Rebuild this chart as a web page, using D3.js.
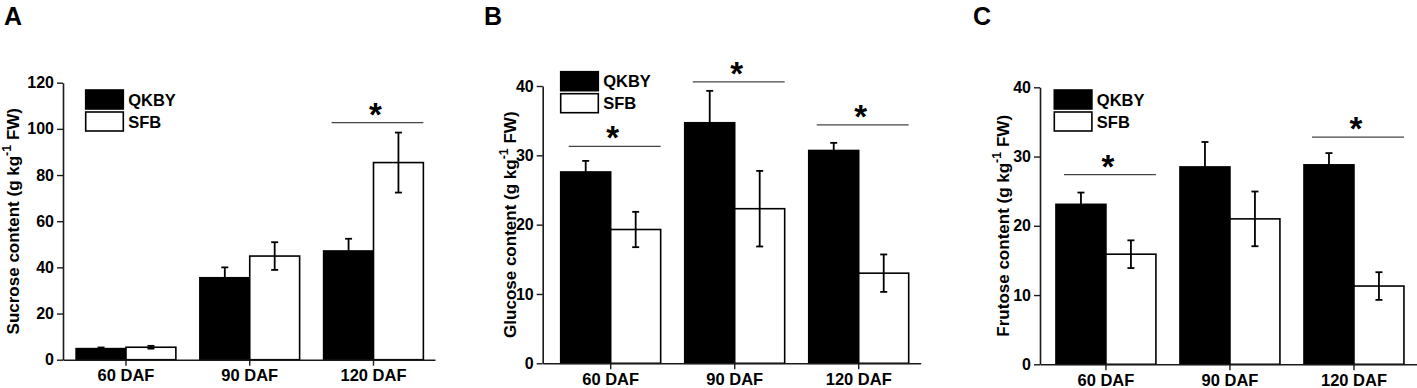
<!DOCTYPE html>
<html>
<head>
<meta charset="utf-8">
<script src="https://cdn.jsdelivr.net/npm/d3@7"></script>
<style>
  html, body { margin: 0; padding: 0; background: #fff; }
  svg { display: block; font-family: "Liberation Sans", Arial, sans-serif; }
</style>
</head>
<body>
<svg id="chart" width="1417" height="388"></svg>
<script>
// ---------- data ----------
const categories = ["60 DAF", "90 DAF", "120 DAF"];
const seriesNames = ["QKBY", "SFB"];

const sucroseQKBY = [4.8, 35.5, 47.1];
const sucroseQKBYErr = [0.5, 4.5, 5.3];
const sucroseSFB = [5.4, 44.9, 85.4];
const sucroseSFBErr = [0.6, 6.0, 13.0];
const sucroseTicks = [0, 20, 40, 60, 80, 100, 120];
const sucroseSig = [null, null, 102.7];

const glucoseQKBY = [27.6, 34.7, 30.7];
const glucoseQKBYErr = [1.6, 4.6, 1.1];
const glucoseSFB = [19.3, 22.3, 13.0];
const glucoseSFBErr = [2.55, 5.45, 2.7];
const glucoseTicks = [0, 10, 20, 30, 40];
const glucoseSig = [31.3, 40.6, 34.4];

const fructoseQKBY = [23.1, 28.5, 28.8];
const fructoseQKBYErr = [1.7, 3.6, 1.7];
const fructoseSFB = [15.9, 21.0, 11.3];
const fructoseSFBErr = [2.0, 3.95, 2.0];
const fructoseTicks = [0, 10, 20, 30, 40];
const fructoseSig = [27.4, null, 32.8];

// ---------- layout ----------
const panels = [
  { letter: "A", letterX: 4, sugar: "Sucrose",
    qkby: sucroseQKBY, qkbyErr: sucroseQKBYErr, sfb: sucroseSFB, sfbErr: sucroseSFBErr,
    ticks: sucroseTicks, sig: sucroseSig,
    x0: 63, x1: 435, yTop: 82.7, yBot: 359.7, align: 0.53, po: 0.1,
    legX: 85.7, legY: 90, titleX: 15 },
  { letter: "B", letterX: 484, sugar: "Glucose",
    qkby: glucoseQKBY, qkbyErr: glucoseQKBYErr, sfb: glucoseSFB, sfbErr: glucoseSFBErr,
    ticks: glucoseTicks, sig: glucoseSig,
    x0: 542.7, x1: 920.7, yTop: 86, yBot: 363.3, align: 0.6, po: 0.121,
    legX: 560.7, legY: 71.7, titleX: 511.7 },
  { letter: "C", letterX: 973, sugar: "Frutose",
    qkby: fructoseQKBY, qkbyErr: fructoseQKBYErr, sfb: fructoseSFB, sfbErr: fructoseSFBErr,
    ticks: fructoseTicks, sig: fructoseSig,
    x0: 1040, x1: 1417, yTop: 87.3, yBot: 364.3, align: 0.55, po: 0.117,
    legX: 1054.3, legY: 90, titleX: 1005 }
];

const svg = d3.select("#chart");
const axisColor = "#1a1a1a";
const FONT = "Liberation Sans, Arial, sans-serif";

panels.forEach(p => {
  const g = svg.append("g");
  const x = d3.scaleBand().domain(categories).range([p.x0, p.x1])
    .paddingInner(0.194).paddingOuter(p.po).align(p.align);
  const xs = d3.scaleBand().domain(seriesNames).range([0, x.bandwidth()]);
  const y = d3.scaleLinear().domain([0, d3.max(p.ticks)]).range([p.yBot, p.yTop]);

  // panel letter
  g.append("text").attr("x", p.letterX).attr("y", 24.5)
    .attr("font-size", 25).attr("font-weight", "bold").attr("fill", "#000")
    .text(p.letter);

  // bars
  const rows = [];
  categories.forEach((c, i) => {
    rows.push({ c, s: "QKBY", v: p.qkby[i], e: p.qkbyErr[i] });
    rows.push({ c, s: "SFB", v: p.sfb[i], e: p.sfbErr[i] });
  });
  g.selectAll("rect.bar").data(rows).join("rect")
    .attr("class", "bar")
    .attr("x", d => x(d.c) + xs(d.s))
    .attr("y", d => y(d.v))
    .attr("width", xs.bandwidth())
    .attr("height", d => y(0) - y(d.v))
    .attr("fill", d => d.s === "QKBY" ? "#000" : "#fff")
    .attr("stroke", "#000").attr("stroke-width", 1.6);

  // error bars
  const eb = g.selectAll("g.err").data(rows).join("g").attr("class", "err")
    .attr("transform", d => `translate(${x(d.c) + xs(d.s) + xs.bandwidth() / 2},0)`);
  eb.append("line").attr("x1", 0).attr("x2", 0)
    .attr("y1", d => y(d.v - d.e)).attr("y2", d => y(d.v + d.e))
    .attr("stroke", "#000").attr("stroke-width", 1.8);
  eb.append("line").attr("x1", -3.5).attr("x2", 3.5)
    .attr("y1", d => y(d.v + d.e)).attr("y2", d => y(d.v + d.e))
    .attr("stroke", "#000").attr("stroke-width", 1.8);
  eb.append("line").attr("x1", -3.5).attr("x2", 3.5)
    .attr("y1", d => y(d.v - d.e)).attr("y2", d => y(d.v - d.e))
    .attr("stroke", "#000").attr("stroke-width", 1.8);

  // significance
  const sigRows = categories.map((c, i) => ({ c, v: p.sig[i] })).filter(d => d.v !== null);
  g.selectAll("line.sig").data(sigRows).join("line").attr("class", "sig")
    .attr("x1", d => x(d.c) + x.bandwidth() * 0.08)
    .attr("x2", d => x(d.c) + x.bandwidth())
    .attr("y1", d => y(d.v)).attr("y2", d => y(d.v))
    .attr("stroke", "#444").attr("stroke-width", 1.2);
  g.selectAll("text.star").data(sigRows).join("text").attr("class", "star")
    .attr("x", d => x(d.c) + x.bandwidth() * 0.52)
    .attr("y", d => y(d.v) + 3)
    .attr("text-anchor", "middle").attr("font-size", 33).attr("font-weight", "bold")
    .text("*");

  // y axis
  const ya = g.append("g").attr("transform", `translate(${p.x0},0)`)
    .call(d3.axisLeft(y).tickValues(p.ticks).tickSize(6).tickSizeOuter(0).tickPadding(3));
  ya.select(".domain").attr("stroke", axisColor).attr("stroke-width", 1.6);
  ya.selectAll(".tick line").attr("stroke", axisColor).attr("stroke-width", 1.4);
  ya.selectAll(".tick text").attr("font-size", 16).attr("font-weight", "bold")
    .attr("fill", "#000").attr("font-family", FONT);

  // x axis
  const xa = g.append("g").attr("transform", `translate(0,${p.yBot})`)
    .call(d3.axisBottom(x).tickSize(6).tickSizeOuter(0).tickPadding(4));
  xa.select(".domain").attr("stroke", axisColor).attr("stroke-width", 1.6);
  xa.selectAll(".tick line").attr("stroke", axisColor).attr("stroke-width", 1.4);
  xa.selectAll(".tick text").attr("font-size", 16.5).attr("font-weight", "bold")
    .attr("fill", "#000").attr("font-family", FONT);

  // y title
  const cy = (p.yTop + p.yBot) / 2;
  const t = g.append("text")
    .attr("transform", `translate(${p.titleX},${cy}) rotate(-90)`)
    .attr("text-anchor", "middle").attr("dominant-baseline", "middle")
    .attr("font-size", 17).attr("font-weight", "bold");
  t.append("tspan").text(p.sugar + " content (g kg");
  t.append("tspan").attr("dy", -7).attr("font-size", 12.5).text("-1");
  t.append("tspan").attr("dy", 7).text(" FW)");

  // legend
  const lg = g.append("g").attr("transform", `translate(${p.legX},${p.legY})`);
  seriesNames.forEach((s, i) => {
    const oy = i * 22;
    lg.append("rect").attr("x", 0).attr("y", oy).attr("width", 37.6).attr("height", 19)
      .attr("fill", i === 0 ? "#000" : "#fff").attr("stroke", "#000").attr("stroke-width", 1.6);
    lg.append("text").attr("x", 42.5).attr("y", oy + 15.5)
      .attr("font-size", 16.5).attr("font-weight", "bold").text(s);
  });
});
</script>
</body>
</html>
